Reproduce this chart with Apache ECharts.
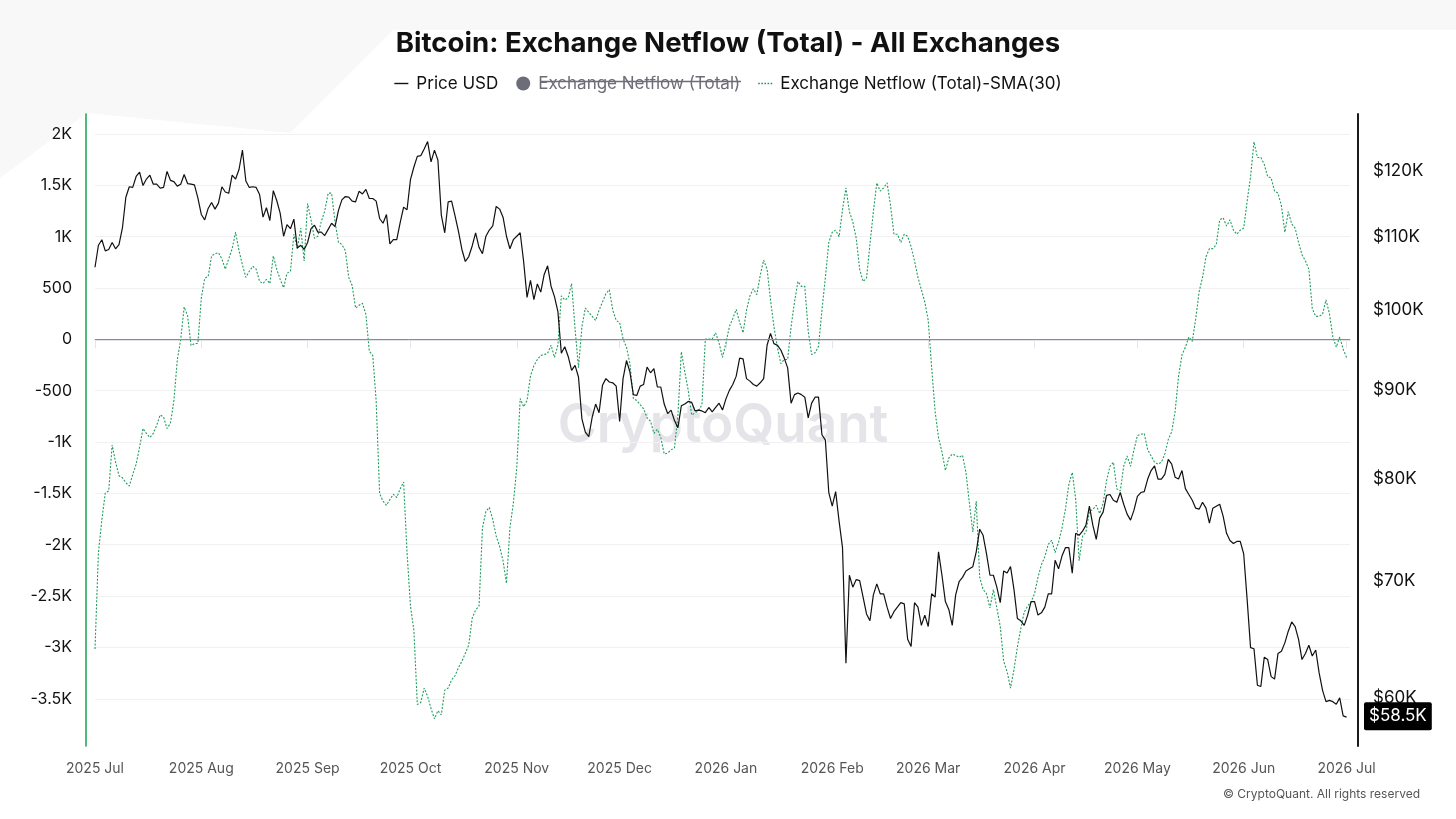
<!DOCTYPE html>
<html><head><meta charset="utf-8">
<script src="https://cdn.jsdelivr.net/npm/echarts@6/dist/echarts.min.js"></script>
<style>html,body{margin:0;padding:0;background:#fff}#c{width:1456px;height:819px}</style>
</head><body><div id="c"></div>
<script>
// ---- data (daily, first value = startDate) ----
const startDate = '2025-07-01';
const monthTicks = ['2025-07-01','2025-08-01','2025-09-01','2025-10-01','2025-11-01','2025-12-01',
  '2026-01-01','2026-02-01','2026-03-01','2026-04-01','2026-05-01','2026-06-01','2026-07-01'];
const monthNames = ['Jan','Feb','Mar','Apr','May','Jun','Jul','Aug','Sep','Oct','Nov','Dec'];
const netflowTicks = [-3500,-3000,-2500,-2000,-1500,-1000,-500,0,500,1000,1500,2000];
const priceTicksUsd = [60000,70000,80000,90000,100000,110000,120000];

// Price USD, thousands of dollars
const priceUsdK = [
 105.7,108.8,109.6,108.0,108.2,109.2,108.3,108.9,111.3,115.9,117.5,117.4,119.1,119.8,117.7,118.7,119.3,117.9,117.9,117.3,117.4,119.9,118.5,118.3,117.6,117.9,119.4,118.0,117.9,117.8,115.8,
 113.3,112.5,114.2,115.1,114.1,115.0,117.5,116.7,116.5,119.3,118.7,120.2,123.3,118.4,117.4,117.5,117.4,116.3,112.9,114.3,112.4,116.9,115.4,113.5,110.1,111.8,111.2,112.6,108.4,108.8,108.2,
 109.2,111.2,111.7,110.7,110.7,110.2,111.1,112.0,111.5,113.9,115.5,116.0,115.9,115.3,115.2,116.8,116.4,117.1,115.7,115.7,115.3,112.7,112.0,113.3,109.0,109.6,109.6,112.1,114.4,114.0,
 118.6,120.6,122.3,122.4,123.5,124.7,121.4,123.3,121.7,113.2,110.6,115.2,115.3,113.1,110.8,108.2,106.5,107.2,108.7,110.6,108.5,107.6,110.1,111.0,111.6,114.5,114.1,112.9,110.1,108.3,109.6,
 110.1,110.6,106.5,101.6,103.9,101.3,103.4,102.3,104.7,105.9,103.1,101.7,99.7,94.4,95.2,94.0,92.3,92.9,91.5,86.6,85.1,84.6,86.8,88.3,87.3,90.5,91.3,90.9,90.8,90.4,
 86.3,91.3,93.5,92.1,89.4,89.3,90.4,90.6,92.7,92.0,92.5,90.3,90.3,88.3,87.2,87.6,86.4,85.6,88.1,88.3,88.6,88.5,87.5,87.6,87.5,87.3,87.9,87.4,87.9,88.4,87.6,
 88.9,89.9,90.6,91.6,93.8,93.7,91.3,91.0,90.6,90.4,90.8,91.3,95.4,96.9,95.6,95.4,94.8,93.8,92.6,88.4,89.4,89.6,89.4,89.1,86.7,88.4,89.1,89.1,84.8,84.2,78.6,
 77.2,78.7,75.7,73.1,62.8,70.5,69.4,70.1,70.0,68.5,67.0,66.4,68.7,69.7,68.8,68.8,67.6,66.6,67.2,67.6,68.0,67.9,64.8,64.2,68.0,67.6,66.0,66.9,
 65.9,68.8,68.5,72.7,70.5,68.1,67.4,66.0,68.7,69.9,70.3,70.9,71.1,71.3,72.7,74.9,74.3,72.5,70.5,70.5,69.4,68.0,70.9,70.7,71.3,69.2,66.6,66.4,66.0,66.9,68.1,
 68.1,66.9,67.1,67.6,68.8,68.8,71.9,71.1,72.3,73.1,73.1,70.7,74.5,74.3,74.7,75.3,77.2,75.3,73.9,76.0,76.6,78.3,78.4,77.8,77.6,78.6,77.4,76.4,75.8,76.8,
 78.2,78.6,78.7,80.0,80.9,81.4,80.0,80.0,80.5,82.1,81.6,80.2,80.0,80.9,79.0,78.4,77.8,77.0,76.9,77.6,77.0,75.5,77.0,77.2,77.4,76.2,74.5,73.8,73.5,73.7,73.7,
 72.5,68.3,64.1,64.0,61.0,60.9,63.3,63.1,61.7,61.5,63.6,63.8,64.5,65.5,66.3,65.9,64.8,63.1,63.6,64.3,63.4,63.9,62.0,60.6,59.7,59.8,59.7,59.5,60.0,58.6,58.5
];

// Exchange Netflow (Total) SMA(30), BTC
const smaNetflow = [
 -3016,-2076,-1756,-1496,-1476,-1028,-1196,-1328,-1348,-1396,-1428,-1316,-1216,-1050,-868,-916,-956,-916,-836,-736,
 -756,-868,-816,-600,-200,0,316,230,-60,-40,-40,400,596,612,812,836,844,784,684,784,
 884,1044,864,724,604,664,712,684,564,544,584,544,812,684,584,504,644,664,1024,884,
 1084,764,1324,1164,984,1004,1150,1250,1424,1424,1144,944,924,864,604,524,304,332,352,244,
 -116,-156,-600,-1500,-1576,-1616,-1560,-1508,-1540,-1456,-1388,-2076,-2596,-2836,-3556,-3536,-3396,-3476,-3596,-3696,
 -3616,-3656,-3416,-3396,-3316,-3276,-3196,-3136,-3056,-2976,-2716,-2636,-2596,-1836,-1676,-1636,-1756,-1916,-2016,-2156,
 -2376,-1836,-1596,-1250,-576,-656,-596,-356,-256,-196,-156,-148,-136,-56,-176,-56,424,384,404,544,
 104,-276,124,304,264,224,184,284,364,444,484,284,184,164,4,-76,-236,-576,-596,-636,
 -676,-764,-796,-916,-876,-956,-1116,-1108,-1076,-1056,-736,-120,-316,-496,-736,-716,-696,-636,4,4,
 4,64,-36,-176,-36,124,204,292,164,64,284,424,492,436,624,772,684,384,124,-76,
 -236,-196,-196,124,364,564,516,516,80,-148,-130,-68,284,604,944,1044,1064,1000,1264,1476,
 1244,1144,984,684,564,596,924,1244,1524,1444,1476,1524,1304,1024,1024,944,1024,1004,904,764,
 604,484,364,184,-276,-700,-956,-1096,-1276,-1156,-1116,-1130,-1148,-1128,-1296,-1596,-1876,-1576,-2316,-2436,
 -2476,-2616,-2436,-2616,-2796,-3136,-3236,-3396,-3216,-2996,-2816,-2656,-2596,-2556,-2476,-2316,-2196,-2116,-1996,-1956,
 -2076,-1976,-1836,-1656,-1416,-1296,-1556,-2156,-1916,-1876,-1676,-1656,-1616,-1696,-1596,-1376,-1236,-1196,-1456,-1476,
 -1236,-1136,-1236,-1076,-936,-924,-916,-1076,-1136,-1196,-1216,-1196,-1116,-976,-900,-700,-360,-150,-76,24,
 -20,200,464,604,804,884,884,924,1164,1184,1104,1164,1064,1024,1064,1084,1344,1584,1924,1772,
 1772,1704,1584,1572,1444,1424,1300,1044,1244,1124,1084,944,824,764,684,300,224,224,244,384,
 250,24,-76,24,-96,-176
];

const DAY = 86400000;
const toTs = s => Date.parse(s + 'T00:00:00Z');
const t0 = toTs(startDate);
const priceSeries = priceUsdK.map((v, i) => [t0 + i * DAY, Math.log10(v * 1000)]);
const smaSeries = smaNetflow.map((v, i) => [t0 + i * DAY, v]);
const lastPrice = priceUsdK[priceUsdK.length - 1];
const monthTs = monthTicks.map(toTs);
const priceTickLog = priceTicksUsd.map(v => Math.log10(v));

const chart = echarts.init(document.getElementById('c'), null, {renderer: 'canvas'});
const FONT = 'Inter, "Noto Sans", sans-serif';
const ICON_LINE = 'path://M0,0h14v1.4h-14z';
const ICON_DOTS = 'path://M0,0h1.6v1.4h-1.6z M3,0h1.6v1.4h-1.6z M6,0h1.6v1.4h-1.6z M9,0h1.6v1.4h-1.6z M12,0h1.6v1.4h-1.6z';
chart.setOption({
  animation: false,
  backgroundColor: '#ffffff',
  textStyle: {fontFamily: FONT},
  title: {
    text: 'Bitcoin: Exchange Netflow (Total) - All Exchanges',
    left: 'center', top: 25,
    textStyle: {fontSize: 27.6, fontWeight: 'bold', color: '#111', fontFamily: FONT}
  },
  legend: {
    top: 70, left: 'center',
    itemWidth: 14, itemHeight: 14, itemGap: 18,
    textStyle: {fontSize: 17, color: '#111', fontFamily: FONT, padding: [0, 0, 0, 3]},
    inactiveColor: '#6d6d78',
    data: [
      {name: 'Price USD', icon: ICON_LINE, itemStyle: {color: '#111'}},
      {name: 'Exchange Netflow (Total)', icon: 'circle'},
      {name: 'Exchange Netflow (Total)-SMA(30)', icon: ICON_DOTS, itemStyle: {color: '#1f9d5c'}}
    ],
    selected: {'Exchange Netflow (Total)': false}
  },
  grid: {left: 95, right: 106, top: 114, bottom: 73, containLabel: false},
  xAxis: {
    type: 'value',
    min: t0,
    max: toTs('2026-07-02'),
    axisLine: {show: true, lineStyle: {color: '#d8d8e2', width: 1.5}},
    axisTick: {show: true, length: 9, customValues: monthTs, lineStyle: {color: '#e4e4ea'}},
    axisLabel: {
      customValues: monthTs,
      color: '#555', fontSize: 14, margin: 16, fontFamily: FONT,
      formatter: v => { const d = new Date(v); return d.getUTCFullYear() + ' ' + monthNames[d.getUTCMonth()]; }
    },
    splitLine: {show: false}
  },
  yAxis: [
    {
      type: 'value', position: 'left', offset: 9,
      min: -3960, max: 2195,
      axisLine: {show: true, lineStyle: {color: '#16a04f', width: 1.5}},
      axisTick: {show: false, customValues: netflowTicks},
      axisLabel: {
        customValues: netflowTicks, color: '#111', fontSize: 16, margin: 14, fontFamily: FONT,
        formatter: v => v === 0 ? '0' : (Math.abs(v) >= 1000 ? (v / 1000) + 'K' : String(v))
      },
      splitLine: {show: true, lineStyle: {color: '#f1f1f3', width: 1}}
    },
    {
      type: 'value', position: 'right', offset: 8,
      min: Math.log10(56320), max: Math.log10(129300),
      axisLine: {show: true, lineStyle: {color: '#1a1a1a', width: 2}},
      axisTick: {show: false, customValues: priceTickLog},
      axisLabel: {
        customValues: priceTickLog, color: '#111', fontSize: 17, margin: 15, fontFamily: FONT,
        formatter: v => '$' + Math.round(Math.pow(10, v) / 1000) + 'K'
      },
      splitLine: {show: false}
    }
  ],
  series: [
    {
      name: 'Price USD', type: 'line', yAxisIndex: 1, data: priceSeries,
      symbol: 'none', color: '#111',
      lineStyle: {color: '#111', width: 1.2},
      z: 4,
      markLine: {
        silent: true, symbol: 'none',
        lineStyle: {color: 'rgba(0,0,0,0)', width: 0},
        emphasis: {disabled: true},
        label: {
          show: true, position: 'end', distance: 14, offset: [0, 4],
          formatter: () => '$' + lastPrice.toFixed(1) + 'K',
          backgroundColor: '#000', color: '#fff', fontSize: 17, fontFamily: FONT,
          padding: [6, 5, 5, 5], borderRadius: 2, opacity: 1
        },
        data: [{yAxis: Math.log10(lastPrice * 1000)}]
      }
    },
    {
      name: 'Exchange Netflow (Total)', type: 'line', yAxisIndex: 0, data: [],
      symbol: 'none', color: '#6d6d78'
    },
    {
      name: 'Exchange Netflow (Total)-SMA(30)', type: 'line', yAxisIndex: 0, data: smaSeries,
      symbol: 'none', color: '#1f9d5c',
      lineStyle: {color: '#1f9d5c', width: 1.1, type: [2, 1.6]},
      z: 3,
      markLine: {
        silent: true, symbol: 'none',
        lineStyle: {color: '#8c8c8c', width: 1, type: 'solid'},
        label: {show: false},
        data: [{yAxis: 0}]
      }
    }
  ],
  graphic: [
    {type: 'polygon', z: -10, silent: true,
     shape: {points: [[0,0],[1456,0],[1456,30],[393,30],[290,133],[87,113],[0,178]]},
     style: {fill: '#f8f8f8'}},
    {type: 'text', z: 0, silent: true, x: 723, y: 426,
     style: {text: 'CryptoQuant', font: '600 53px Inter, sans-serif', fill: '#e4e4e9', align: 'center', verticalAlign: 'middle'}},
    {type: 'text', silent: true, x: 1420, y: 794,
     style: {text: '© CryptoQuant. All rights reserved', font: '12px Inter, sans-serif', fill: '#555', align: 'right', verticalAlign: 'middle'}},
    {type: 'line', silent: true, z: 100,
     shape: {x1: 540, y1: 81.5, x2: 741, y2: 81.5},
     style: {stroke: '#6d6d78', lineWidth: 1.3}}
  ]
});
</script>
</body></html>
